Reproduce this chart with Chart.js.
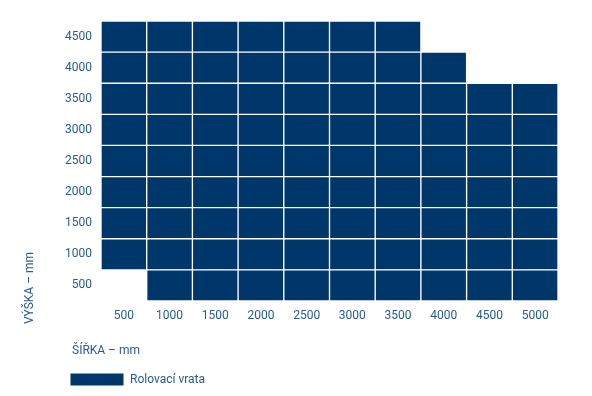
<!DOCTYPE html>
<html lang="cs">
<head>
<meta charset="utf-8">
<title>Rolovací vrata</title>
<script src="https://cdn.jsdelivr.net/npm/chart.js@4.4.1/dist/chart.umd.min.js"></script>
<style>
    html, body { margin: 0; padding: 0; background: #ffffff; }
    #wrap { width: 592px; height: 396px; }
</style>
</head>
<body>
<div id="wrap"><canvas id="matrix" width="592" height="396"></canvas></div>
<script>
// šířky (osa x) a výšky (osa y) v mm
var sirky = ['500', '1000', '1500', '2000', '2500', '3000', '3500', '4000', '4500', '5000'];
var vysky = ['500', '1000', '1500', '2000', '2500', '3000', '3500', '4000', '4500'];
// rozsah výšek, které jsou k dispozici pro každou šířku
var minVyska = [1000, 500, 500, 500, 500, 500, 500, 500, 500, 500];
var maxVyska = [4500, 4500, 4500, 4500, 4500, 4500, 4500, 4000, 3500, 3500];
var nazevSerie = 'Rolovací vrata';

var barva = '#00376b';
var barvaTextu = '#2a5b8e';

// jeden dataset pro každý řádek (výšku)
var datasets = vysky.map(function (v, r) {
    var h = Number(v);
    return {
        label: nazevSerie,
        data: sirky.map(function (s, i) {
            return (h >= minVyska[i] && h <= maxVyska[i]) ? [r - 0.5, r + 0.5] : null;
        }),
        backgroundColor: barva,
        borderColor: '#ffffff',
        borderWidth: 1,
        borderSkipped: false,
        grouped: false,
        categoryPercentage: 1,
        barPercentage: 1
    };
});

// popisky os kreslené mimo osy
var popiskyOs = {
    id: 'popiskyOs',
    afterDraw: function (chart) {
        var ctx = chart.ctx;
        ctx.save();
        ctx.fillStyle = barvaTextu;
        ctx.font = '12px Roboto';
        ctx.textBaseline = 'middle';
        ctx.textAlign = 'left';
        ctx.fillText('ŠÍŘKA – mm', 72, 351);
        ctx.translate(30, 288);
        ctx.rotate(-Math.PI / 2);
        ctx.textAlign = 'center';
        ctx.fillText('VÝŠKA – mm', 0, 0);
        ctx.restore();
    }
};

var ctx = document.getElementById('matrix').getContext('2d');
var chart = new Chart(ctx, {
    type: 'bar',
    data: {
        labels: sirky,
        datasets: datasets
    },
    options: {
        responsive: false,
        maintainAspectRatio: false,
        animation: false,
        events: [],
        layout: {
            padding: { left: 60, top: 21, right: 34, bottom: 0 }
        },
        scales: {
            x: {
                type: 'category',
                offset: true,
                grid: { display: false, drawTicks: false },
                border: { display: false },
                ticks: {
                    color: barvaTextu,
                    font: { family: 'Roboto', size: 12 },
                    padding: 8,
                    maxRotation: 0
                },
                afterFit: function (scale) { scale.height = 62; }
            },
            y: {
                type: 'linear',
                min: -0.5,
                max: 8.5,
                grid: { display: false, drawTicks: false },
                border: { display: false },
                afterBuildTicks: function (scale) {
                    scale.ticks = vysky.map(function (v, i) { return { value: i }; });
                },
                ticks: {
                    color: barvaTextu,
                    font: { family: 'Roboto', size: 12 },
                    padding: 9,
                    callback: function (value) { return vysky[value]; }
                },
                afterFit: function (scale) { scale.width = 41; }
            }
        },
        plugins: {
            tooltip: { enabled: false },
            legend: {
                position: 'bottom',
                align: 'start',
                labels: {
                    color: barvaTextu,
                    font: { family: 'Roboto', size: 12 },
                    boxWidth: 54,
                    boxHeight: 13,
                    padding: 10,
                    filter: function (item) { return item.datasetIndex === 0; }
                }
            }
        }
    },
    plugins: [popiskyOs]
});
</script>
</body>
</html>
